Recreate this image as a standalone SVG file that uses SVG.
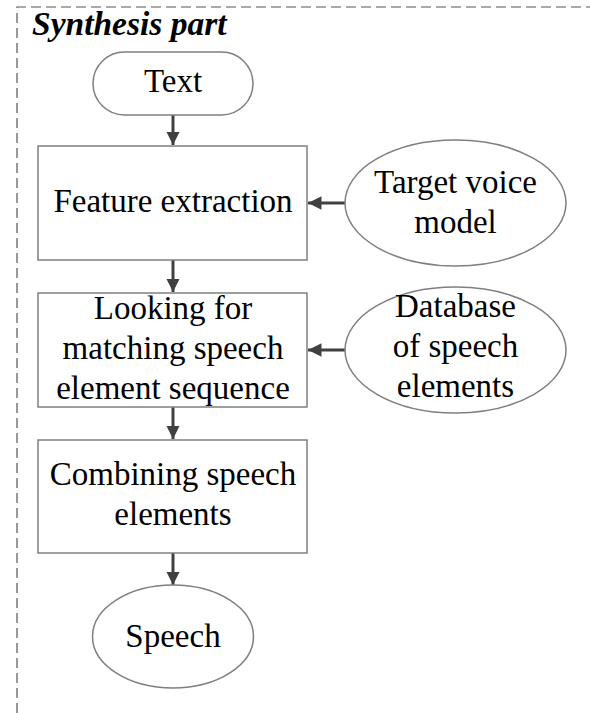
<svg xmlns="http://www.w3.org/2000/svg" width="590" height="713" viewBox="0 0 590 713">
<defs>
<style>
text{font-family:'Liberation Serif','DejaVu Serif',serif}
.t{font-size:33px;fill:#000;text-anchor:middle}
.n{fill:#fff;stroke:#7f7f7f;stroke-width:1.5}
.c{stroke:#404040;stroke-width:3;fill:none}
</style>
<marker id="ah" viewBox="0 0 10 10" refX="10" refY="5" markerWidth="4.5" markerHeight="4.5" orient="auto" markerUnits="strokeWidth">
<path d="M0,0 L10,5 L0,10 Z" fill="#404040"/>
</marker>
</defs>
<rect width="590" height="713" fill="#fff"/>
<path d="M17,713 V7 H590" fill="none" stroke="#555" stroke-width="1.2" stroke-dasharray="10,5"/>
<text x="32" y="35" font-size="33.5" font-weight="bold" font-style="italic">Synthesis part</text>
<g id="connectors">
<line class="c" x1="173" y1="115" x2="173" y2="145" marker-end="url(#ah)"/>
<line class="c" x1="345" y1="203" x2="308" y2="203" marker-end="url(#ah)"/>
<line class="c" x1="173" y1="260" x2="173" y2="292" marker-end="url(#ah)"/>
<line class="c" x1="345" y1="350" x2="308" y2="350" marker-end="url(#ah)"/>
<line class="c" x1="173" y1="407" x2="173" y2="439" marker-end="url(#ah)"/>
<line class="c" x1="173" y1="553" x2="173" y2="585" marker-end="url(#ah)"/>
</g>
<g id="text-node">
<rect class="n" x="93" y="52" width="160" height="63" rx="31.5"/>
<text class="t" x="173" y="92">Text</text>
</g>
<g id="feature-extraction">
<rect class="n" x="38" y="146" width="269" height="114"/>
<text class="t" x="173" y="212">Feature extraction</text>
</g>
<g id="target-voice-model">
<ellipse class="n" cx="455.5" cy="203" rx="110.5" ry="63"/>
<text class="t" x="455.5" y="193">Target voice</text>
<text class="t" x="455.5" y="233">model</text>
</g>
<g id="looking-for">
<rect class="n" x="38" y="293" width="269" height="114"/>
<text class="t" x="173" y="319">Looking for</text>
<text class="t" x="173" y="359">matching speech</text>
<text class="t" x="173" y="399">element sequence</text>
</g>
<g id="database">
<ellipse class="n" cx="455.5" cy="350" rx="110.5" ry="63"/>
<text class="t" x="455.5" y="317">Database</text>
<text class="t" x="455.5" y="357">of speech</text>
<text class="t" x="455.5" y="397">elements</text>
</g>
<g id="combining">
<rect class="n" x="38" y="440" width="269" height="113"/>
<text class="t" x="173" y="485">Combining speech</text>
<text class="t" x="173" y="525">elements</text>
</g>
<g id="speech">
<ellipse class="n" cx="173" cy="636.5" rx="80.5" ry="51.5"/>
<text class="t" x="173" y="647">Speech</text>
</g>
</svg>
